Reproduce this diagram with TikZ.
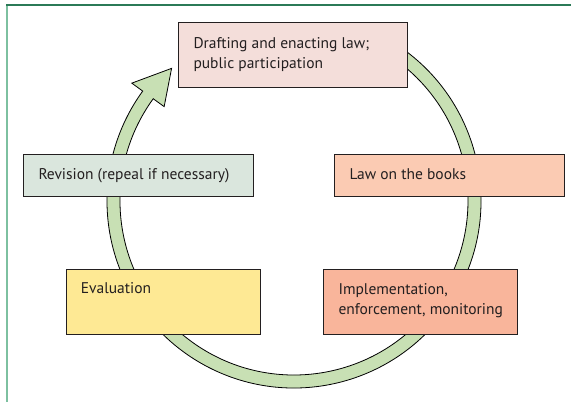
\documentclass[tikz,border=0pt]{standalone}
\usepackage{fontspec}
\setmainfont{PT Sans}
\usetikzlibrary{calc}
\definecolor{txtc}{HTML}{231F20}
\definecolor{cdraft}{HTML}{F4DEDA}
\definecolor{crev}{HTML}{DAE6DD}
\definecolor{claw}{HTML}{FBCBB3}
\definecolor{ceval}{HTML}{FEE994}
\definecolor{cimpl}{HTML}{F9B59B}
\definecolor{cring}{HTML}{C8E0B4}
\definecolor{ftop}{HTML}{2B7A57}
\definecolor{fleft}{HTML}{7DC0A0}
\begin{document}
\begin{tikzpicture}[x=1pt,y=1pt,
  box/.style={draw=txtc, line width=1pt, rectangle, inner sep=0pt, anchor=north west},
  lbl/.style={anchor=base west, inner sep=0pt, text=txtc, font=\fontsize{15.5}{18}\selectfont},
  ring/.style={fill=cring, draw=black, line width=0.8pt, line join=miter}]
\useasboundingbox (0,0) rectangle (571,402);
% frame
\draw[fleft, line width=2pt] (7.3,397) -- (7.3,0);
\draw[ftop, line width=1.3pt] (6.3,397) -- (571,397);
% ring with arrow
\begin{scope}[shift={(294,201)}]
\draw[ring] (60:187) arc[start angle=60, end angle=-216, radius=187]
  -- (-216:200.5) -- (-227.3:180.5) -- (-216:160.5) -- (-216:174)
  arc[start angle=-216, end angle=60, radius=174] -- cycle;
\end{scope}
% boxes
\node[box, fill=cdraft, minimum width=229pt, minimum height=65.6pt] (draft) at (178.3,380.3) {};
\node[box, fill=crev, minimum width=230pt, minimum height=42.3pt] (rev) at (23.3,248) {};
\node[box, fill=claw, minimum width=230pt, minimum height=42.3pt] (law) at (334.3,248) {};
\node[box, fill=ceval, minimum width=194.3pt, minimum height=64.7pt] (eval) at (65.7,133) {};
\node[box, fill=cimpl, minimum width=194.3pt, minimum height=65pt] (impl) at (322.7,133) {};
% labels
\node[lbl] (draftA) at (193.3,353.7) {Drafting and enacting law;};
\node[lbl] (draftB) at (193.3,333.7) {public participation};
\node[lbl] (revA) at (38.3,222) {Revision (repeal if necessary)};
\node[lbl] (lawA) at (349.3,222) {Law on the books};
\node[lbl] (evalA) at (80.7,108) {Evaluation};
\node[lbl] (implA) at (338.3,107.3) {Implementation,};
\node[lbl] (implB) at (338.3,87.3) {enforcement, monitoring};
\end{tikzpicture}
\end{document}
